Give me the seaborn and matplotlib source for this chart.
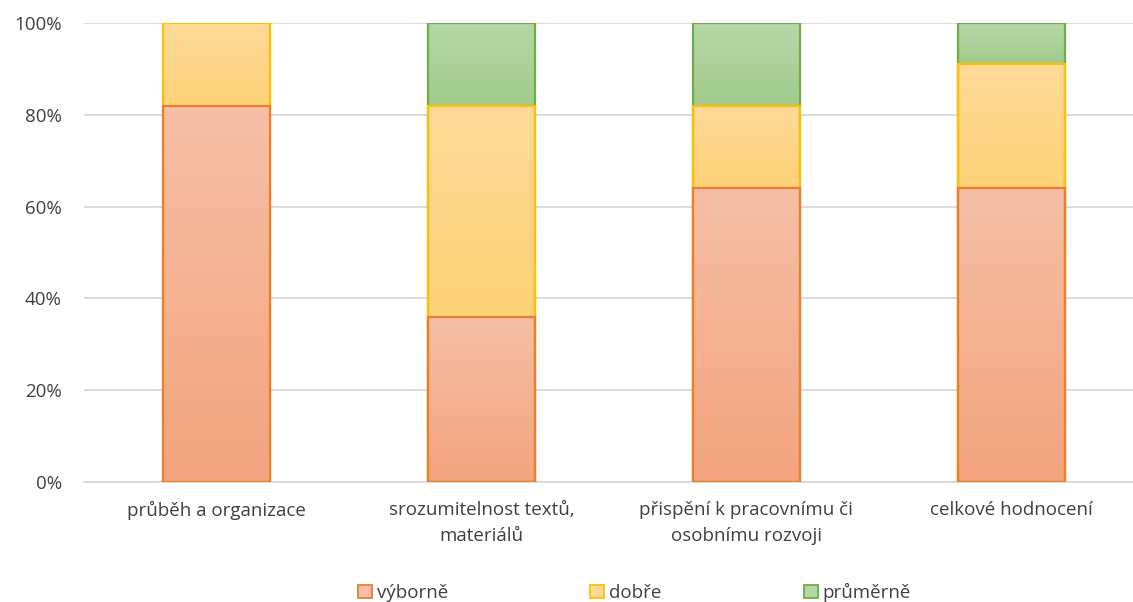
import numpy as np
import pandas as pd
import matplotlib
matplotlib.use("Agg")
import matplotlib.pyplot as plt
import matplotlib.colors as mcolors
from matplotlib.patches import Patch
import seaborn as sns

categories = ["průběh a organizace", "srozumitelnost textů,\nmateriálů",
              "přispění k pracovnímu či\nosobnímu rozvoji", "celkové hodnocení"]
series = ["výborně", "dobře", "průměrně"]
vyborne = [82, 36, 64, 64]
dobre = [18, 46, 18, 27]
prumerne = [0, 18, 18, 9]
y_ticks = [0, 20, 40, 60, 80, 100]

edge_colors = {"výborně": "#ED7D31", "dobře": "#FFC000", "průměrně": "#70AD47"}
grad_top = {"výborně": "#F6BFA6", "dobře": "#FDDA98", "průměrně": "#B6D7A8"}
grad_bot = {"výborně": "#F4A47E", "dobře": "#FFD278", "průměrně": "#A1CB8B"}

sns.set_theme(style="white")
plt.rcParams["font.family"] = ["Open Sans", "DejaVu Sans"]

fig = plt.figure(figsize=(11.33, 6.02), dpi=100)
ax = fig.add_axes([84 / 1133, 1 - 482 / 602, 1 - 84 / 1133, (482 - 23) / 602])

values = {"výborně": vyborne, "dobře": dobre, "průměrně": prumerne}
cum = np.zeros(len(categories))
tops = {}
bottoms = {}
for s in series:
    bottoms[s] = cum.copy()
    cum = cum + np.array(values[s])
    tops[s] = cum.copy()

layer_patches = {}
for s in reversed(series):
    df = pd.DataFrame({"cat": categories, "val": tops[s]})
    n_before = len(ax.patches)
    sns.barplot(data=df, x="cat", y="val", color=grad_top[s], width=0.405,
                edgecolor=edge_colors[s], linewidth=1.6, ax=ax, zorder=2)
    layer_patches[s] = ax.patches[n_before:]

for s in series:
    cmap = mcolors.LinearSegmentedColormap.from_list(s, [grad_bot[s], grad_top[s]])
    for i, p in enumerate(layer_patches[s]):
        h = values[s][i]
        if h <= 0:
            p.set_visible(False)
            continue
        x0 = p.get_x()
        w = p.get_width()
        b0 = bottoms[s][i]
        grad = np.linspace(0, 1, 256).reshape(-1, 1)
        im = ax.imshow(grad, cmap=cmap, origin="lower", aspect="auto",
                       extent=[x0, x0 + w, b0, b0 + h], zorder=2 + 0.1 * (3 - series.index(s)),
                       interpolation="bilinear")
        im.set_clip_path(p)
        p.set_facecolor("none")
        p.set_zorder(2.5 + 0.1 * (3 - series.index(s)))

ax.set_xlim(-0.5, 3.46)
ax.set_ylim(0, 100)
ax.set_yticks(y_ticks)
ax.set_yticklabels([f"{v}%" for v in y_ticks], fontsize=13.5, color="#404040")
ax.tick_params(axis="x", labelsize=13.5, labelcolor="#404040", pad=14, length=0)
for lbl in ax.get_xticklabels():
    lbl.set_linespacing(1.55)
ax.tick_params(axis="y", length=0, pad=16)
ax.set_xlabel("")
ax.set_ylabel("")
ax.yaxis.grid(True, color="#D9D9D9", linewidth=1.3)
ax.set_axisbelow(True)
for sp in ["top", "right", "left"]:
    ax.spines[sp].set_visible(False)
ax.spines["bottom"].set_color("#D9D9D9")
ax.spines["bottom"].set_linewidth(1.3)

handles = [Patch(facecolor=grad_top[s], edgecolor=edge_colors[s], linewidth=1.3, label=s)
           for s in series]
fig.legend(handles=handles, loc="lower center", bbox_to_anchor=(0.56, -0.028), ncol=3,
           frameon=False, fontsize=13.5, handlelength=0.75, handleheight=0.75,
           handletextpad=0.25, columnspacing=7.6, labelcolor="#404040")

fig.savefig("out.png", dpi=100)
